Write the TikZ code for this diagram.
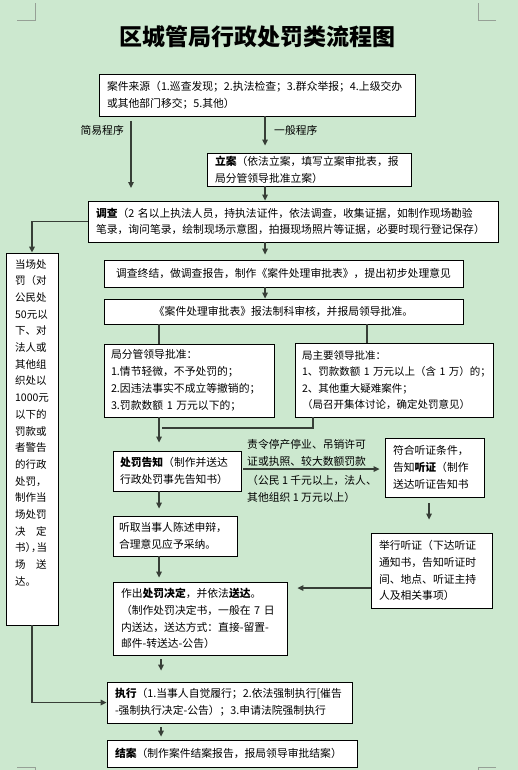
\documentclass[tikz,border=0pt]{standalone}
\usepackage{fontspec}
\setmainfont{Noto Sans CJK SC}
\usetikzlibrary{arrows.meta}
\definecolor{bgc}{RGB}{204,232,207}
\definecolor{lc}{RGB}{55,62,55}
\definecolor{mk}{RGB}{150,160,150}
\newcommand\fs{\fontsize{10.8pt}{16.8pt}\selectfont}
\newcommand\fss{\fontsize{10.5pt}{16.5pt}\selectfont}
\newcommand\fsl{\fontsize{10.5pt}{16.7pt}\selectfont}
\newcommand\spreadln[2]{\hbox to 31.5pt{#1\hfill#2}}
\tikzset{
  box/.style={draw=black, line width=0.8pt, fill=white, inner xsep=8pt, inner ysep=2pt, align=left, font=\fs},
  cbox/.style={box, align=center},
  conn/.style={draw=lc, line width=1.3pt},
  arr/.style={conn, -{Triangle[length=6pt,width=5.5pt]}},
  arrw/.style={draw=lc, line width=1.9pt, -{Triangle[length=6pt,width=5.5pt]}},
  lbl/.style={font=\fs, align=left, inner sep=0pt},
  cornermark/.style={draw=mk, line width=0.8pt}
}
\begin{document}
\begin{tikzpicture}[x=1pt,y=-1pt]
\useasboundingbox (0,0) rectangle (518,770);
\fill[bgc] (0,0) rectangle (518,770);
% corner marks
\draw[cornermark] (17,20) -- (35,20) -- (35,3);
\draw[cornermark] (496,20) -- (478,20) -- (478,3);
\draw[cornermark] (17,767) -- (35,767) -- (35,770);
\draw[cornermark] (496,767) -- (478,767) -- (478,770);
% title
\node[font=\fontsize{23pt}{27pt}\selectfont\bfseries] (title) at (257,37) {区城管局行政处罚类流程图};
% boxes
\node[box, minimum width=316pt, minimum height=42pt, text width=300pt] (b1) at (257,95)
  {案件来源（1.巡查发现；2.执法检查；3.群众举报；4.上级交办\\或其他部门移交；5.其他）};
\node[box, minimum width=204pt, minimum height=33pt, text width=188pt] (b2) at (309,169.5)
  {\textbf{立案}（依法立案，填写立案审批表，报\\局分管领导批准立案）};
\node[box, minimum width=410pt, minimum height=41pt, text width=394pt] (b3) at (293,221.5)
  {\textbf{调查}（2~名以上执法人员，持执法证件，依法调查，收集证据，如制作现场勘验\\笔录，询问笔录，绘制现场示意图，拍摄现场照片等证据，必要时现行登记保存）};
\node[box, minimum width=52pt, minimum height=372pt, inner sep=0pt] (bl) at (32,439) {};
\node[font=\fsl, align=left, inner sep=0pt, anchor=north] (blt) at (32,259)
  {当场处\\罚（对\\公民处\\50元以\\下、对\\法人或\\其他组\\织处以\\1000元\\以下的\\罚款或\\者警告\\的行政\\处罚，\\制作当\\场处罚\\\spreadln{决}{定}\\书）\kern-5pt，\kern-5pt 当\\\spreadln{场}{送}\\达。};
\node[cbox, minimum width=359pt, minimum height=27pt, text width=343pt] (b4) at (283.5,273.5)
  {调查终结，做调查报告，制作《案件处理审批表》，提出初步处理意见};
\node[cbox, minimum width=359pt, minimum height=25pt, text width=343pt] (b5) at (283.5,311.5)
  {《案件处理审批表》报法制科审核，并报局领导批准。};
\node[box, minimum width=170pt, minimum height=73pt, text width=156pt, inner xsep=7pt] (b6) at (189,380.5)
  {局分管领导批准：\\1.情节轻微，不予处罚的；\\2.因违法事实不成立等撤销的；\\3.罚款数额~1~万元以下的；};
\node[box, minimum width=198pt, minimum height=74pt, text width=184pt, inner xsep=7pt, font=\fss] (b7) at (394,380)
  {局主要领导批准：\\1、罚款数额~1~万元以上（含~1~万）的；\\2、其他重大疑难案件；\\（局召开集体讨论，确定处罚意见）};
\node[box, minimum width=128pt, minimum height=40pt, text width=114pt, inner xsep=7pt] (b8) at (177,471)
  {\textbf{处罚告知}（制作并送达\\行政处罚事先告知书）};
\node[box, minimum width=99pt, minimum height=59pt, text width=83pt] (b9) at (434.5,467.5)
  {符合听证条件，\\告知\textbf{听证}（制作\\送达听证告知书};
\node[box, minimum width=121pt, minimum height=75pt, text width=105pt] (b10) at (431.5,570.5)
  {举行听证（下达听证\\通知书，告知听证时\\间、地点、听证主持\\人及相关事项）};
\node[box, minimum width=124pt, minimum height=40pt, text width=112pt, inner xsep=6pt] (b11) at (175,536)
  {听取当事人陈述申辩，\\合理意见应予采纳。};
\node[box, minimum width=174pt, minimum height=73pt, text width=158pt] (b12) at (200,618.5)
  {作出\textbf{处罚决定}，并依法\textbf{送达}。\\（制作处罚决定书，一般在~7~日\\内送达，送达方式：直接-留置-\\邮件-转送达-公告）};
\node[box, minimum width=245pt, minimum height=41pt, text width=229pt] (b13) at (229.5,702.5)
  {\textbf{执行}（1.当事人自觉履行；2.依法强制执行[催告\\-强制执行决定-公告）；3.申请法院强制执行};
\node[box, minimum width=250pt, minimum height=27pt, text width=234pt] (b14) at (232,753.5)
  {\textbf{结案}（制作案件结案报告，报局领导审批结案）};
% labels
\node[lbl, anchor=east] (lsimple) at (124,130) {简易程序};
\node[lbl, anchor=west] (lgeneral) at (274,130) {一般程序};
\node[lbl, anchor=west] (lup) at (247,453) {责令停产停业、吊销许可\\证或执照、较大数额罚款};
\node[lbl, anchor=west] (ldown) at (247,488.5) {（公民~1~千元以上，法人、\\其他组织~1~万元以上）};
% helper coordinates
\coordinate (xm) at (265,0);
\coordinate (xa) at (159,0);
\coordinate (xb) at (367,0);
\coordinate (xc) at (313,0);
\coordinate (xd) at (429,0);
\coordinate (xe) at (161,0);
\coordinate (ya) at (0,588);
\coordinate (yc) at (0,469);
\coordinate (jn) at (162,428);
\coordinate (s1) at (131,121);
\coordinate (s2) at (131,188);
% connectors
\draw[arr] (s1) -- (s2);
\draw[arr, shorten >=7pt] (b1.south -| xm) -- (b2.north -| xm);
\draw[arr] (b2.south -| xm) -- (b3.north -| xm);
\draw[arr, shorten >=5pt] (b3.south -| xm) -- (b4.north -| xm);
\draw[arr] (b4.south -| xm) -- (b5.north -| xm);
\draw[conn] (b5.south -| xa) -- (b6.north -| xa);
\draw[conn] (b5.south -| xb) -- (b7.north -| xb);
\draw[conn] (b7.south -| xc) |- (jn);
\draw[arr, shorten >=8pt] (b6.south -| xa) -- (b8.north -| xa);
\draw[arr, shorten <=2pt, shorten >=5pt] (b8.east |- yc) -- (b9.west |- yc);
\draw[arr, shorten <=6pt, shorten >=13pt] (b9.south -| xd) -- (b10.north -| xd);
\draw[arr, shorten >=10pt] (b10.west |- ya) -- (b12.east |- ya);
\draw[arr, shorten >=7pt] (b8.south -| xa) -- (b11.north -| xa);
\draw[arr, shorten >=4pt] (b11.south -| xa) -- (b12.north -| xa);
\draw[arr, shorten <=4pt, shorten >=11pt] (b12.south -| xe) -- (b13.north -| xe);
\draw[arr, shorten <=4pt, shorten >=3pt] (b13.south -| xe) -- (b14.north -| xe);
\draw[arrw] (b3.west) -| (bl.north);
\draw[arrw] (bl.south) |- (b13.west);
\end{tikzpicture}
\end{document}
